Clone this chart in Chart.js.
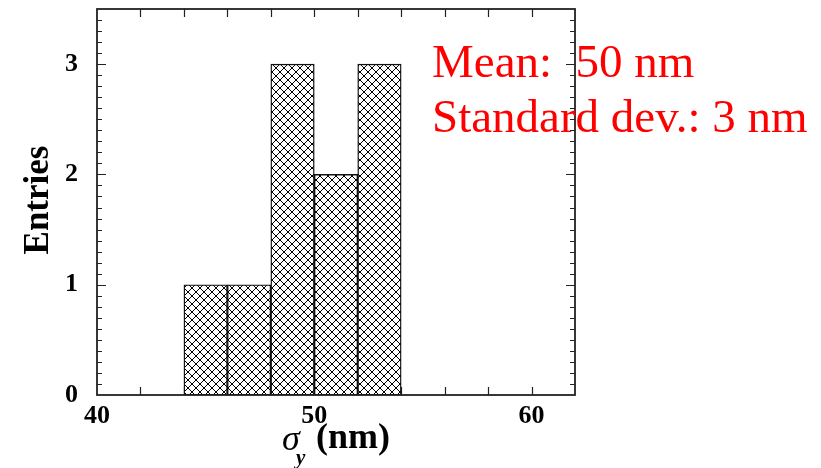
<!DOCTYPE html>
<html>
<head>
<meta charset="utf-8">
<title>Entries vs sigma_y</title>
<style>
  html, body { margin: 0; padding: 0; background: #fff; }
  canvas { display: block; }
</style>
<script src="https://cdn.jsdelivr.net/npm/chart.js"></script>
</head>
<body>
<canvas id="hist" width="821" height="468"></canvas>
<script>
// Histogram bins (centre of each 2 nm bin) and their counts
const binCenters = [45, 47, 49, 51, 53];
const binCounts = [1, 1, 3, 2, 3];
const binWidth = 2;

// Labelled ticks
const xTickLabels = [40, 50, 60];
const yTickLabels = [0, 1, 2, 3];

// Summary text in the upper right
const statsLines = ['Mean:  50 nm', 'Standard dev.: 3 nm'];

const SERIF = "'Liberation Serif', 'Times New Roman', serif";

// Cross-hatch fill for the bars
function makeHatch() {
  const c = document.createElement('canvas');
  c.width = 8;
  c.height = 8;
  const g = c.getContext('2d');
  g.fillStyle = '#fff';
  g.fillRect(0, 0, 8, 8);
  g.strokeStyle = '#000';
  g.lineWidth = 1;
  g.beginPath();
  g.moveTo(-1, -1); g.lineTo(9, 9);
  g.moveTo(9, -1); g.lineTo(-1, 9);
  g.stroke();
  return g.createPattern(c, 'repeat');
}

// Inward tick marks on all four sides (drawn under the bars)
const tickMarks = {
  id: 'tickMarks',
  beforeDatasetsDraw(chart) {
    const { ctx, chartArea: a, scales: { x, y } } = chart;
    ctx.save();
    ctx.strokeStyle = '#222';
    ctx.lineWidth = 1.2;
    ctx.beginPath();
    for (let v = x.min + binWidth; v < x.max; v += binWidth) {
      const px = Math.round(x.getPixelForValue(v)) + 0.5;
      ctx.moveTo(px, a.bottom); ctx.lineTo(px, a.bottom - 8);
      ctx.moveTo(px, a.top); ctx.lineTo(px, a.top + 8);
    }
    for (let i = 1; i < 35; i++) {
      const v = i / 10;
      const len = i % 10 === 0 ? 9 : 5;
      const py = Math.round(y.getPixelForValue(v)) + 0.5;
      ctx.moveTo(a.left, py); ctx.lineTo(a.left + len, py);
      ctx.moveTo(a.right, py); ctx.lineTo(a.right - len, py);
    }
    ctx.stroke();
    ctx.restore();
  }
};

// Frame, axis titles and the summary text
const decorations = {
  id: 'decorations',
  afterDatasetsDraw(chart) {
    const { ctx, chartArea: a } = chart;
    ctx.save();
    ctx.strokeStyle = '#222';
    ctx.lineWidth = 1.8;
    ctx.strokeRect(a.left, a.top, a.right - a.left, a.bottom - a.top);
    ctx.restore();
  },
  afterDraw(chart) {
    const { ctx } = chart;
    ctx.save();
    ctx.fillStyle = '#000';
    ctx.textBaseline = 'alphabetic';

    // y title, rotated
    ctx.save();
    ctx.translate(48, 200);
    ctx.rotate(-Math.PI / 2);
    ctx.textAlign = 'center';
    ctx.font = 'bold 35px ' + SERIF;
    ctx.fillText('Entries', 0, 0);
    ctx.restore();

    // x title: sigma with subscript y, then unit
    ctx.textAlign = 'left';
    ctx.font = 'italic 36px ' + SERIF;
    ctx.fillText('\u03c3', 282, 450);
    ctx.font = 'italic bold 21px ' + SERIF;
    ctx.fillText('y', 296, 464);
    ctx.font = 'bold 36px ' + SERIF;
    ctx.fillText('(nm)', 316, 448);

    // summary statistics
    ctx.fillStyle = '#ff0000';
    ctx.font = '47px ' + SERIF;
    ctx.fillText(statsLines[0], 432, 77);
    ctx.fillText(statsLines[1], 432, 132);
    ctx.restore();
  }
};

const tickFont = { family: SERIF, size: 26, weight: 'bold', lineHeight: 1 };

new Chart(document.getElementById('hist'), {
  type: 'bar',
  data: {
    datasets: [{
      data: binCenters.map((c, i) => ({ x: c, y: binCounts[i] })),
      backgroundColor: makeHatch(),
      borderColor: '#111',
      borderWidth: 1.4,
      borderSkipped: false,
      categoryPercentage: 1,
      barPercentage: 1
    }]
  },
  options: {
    responsive: false,
    animation: false,
    layout: { padding: { top: 9, right: 246, bottom: 0, left: 0 } },
    plugins: {
      legend: { display: false },
      tooltip: { enabled: false }
    },
    scales: {
      x: {
        type: 'linear',
        min: 40,
        max: 62,
        offset: false,
        grid: { display: false },
        border: { display: false },
        afterBuildTicks: s => { s.ticks = xTickLabels.map(v => ({ value: v })); },
        afterFit: s => { s.height = 73; s.paddingLeft = 0; s.paddingRight = 0; },
        ticks: { color: '#000', padding: 0, maxRotation: 0, font: tickFont }
      },
      y: {
        min: 0,
        max: 3.5,
        grid: { display: false },
        border: { display: false },
        afterBuildTicks: s => { s.ticks = yTickLabels.map(v => ({ value: v })); },
        afterFit: s => { s.width = 97; s.paddingTop = 0; s.paddingBottom = 0; },
        ticks: { color: '#000', padding: 11, font: tickFont }
      }
    }
  },
  plugins: [tickMarks, decorations]
});
</script>
</body>
</html>
